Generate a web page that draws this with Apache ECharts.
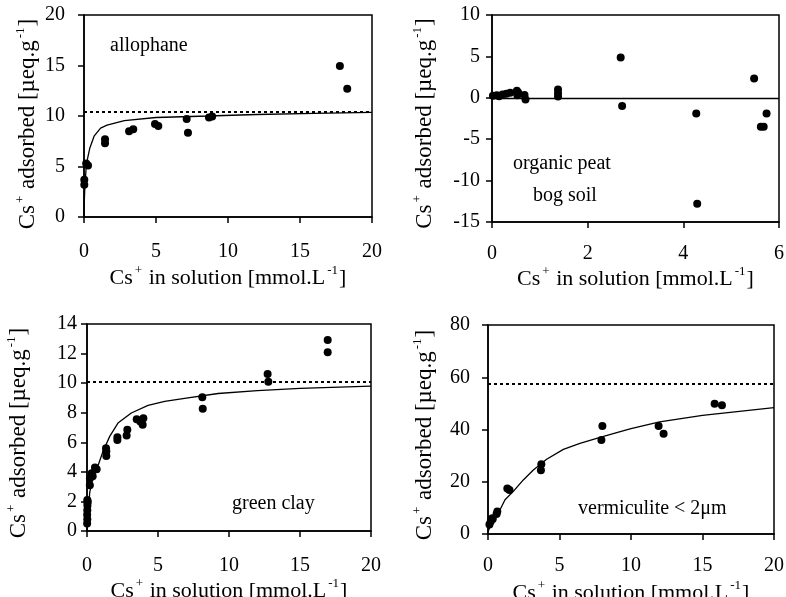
<!DOCTYPE html>
<html>
<head>
<meta charset="utf-8">
<script src="https://cdn.jsdelivr.net/npm/echarts@6/dist/echarts.min.js"></script>
<style>
html,body{margin:0;padding:0;background:#fff;}
#c{width:786px;height:597px;}
</style>
</head>
<body>
<div id="c"></div>
<script>
// ---- Panel 1: allophane ----
var alloX = [0.02, 0.02, 0.15, 0.28, 1.46, 1.46, 3.13, 3.42, 4.93, 5.16, 7.13, 7.22, 8.68, 8.9, 17.77, 18.28];
var alloY = [3.2, 3.7, 5.3, 5.1, 7.7, 7.3, 8.5, 8.7, 9.2, 9.0, 9.7, 8.35, 9.85, 9.95, 14.95, 12.7];
var alloFitX = [0, 0.02, 0.06, 0.14, 0.25, 0.4, 0.7, 1.15, 1.6, 2.8, 5, 8.6, 12, 16, 20];
var alloFitY = [0, 1.5, 3.0, 4.7, 5.8, 6.8, 8.0, 8.8, 9.1, 9.55, 9.85, 10.0, 10.15, 10.25, 10.35];
var alloMax = 10.4;

// ---- Panel 2: organic peat bog soil ----
var peatX = [0.02, 0.1, 0.15, 0.22, 0.3, 0.38, 0.52, 0.53, 0.55, 0.68, 0.7, 1.38, 1.38, 1.38, 2.69, 2.72, 4.27, 4.29, 5.48, 5.62, 5.68, 5.74];
var peatY = [0.25, 0.3, 0.2, 0.4, 0.5, 0.6, 0.85, 0.3, 0.6, 0.35, -0.2, 1.0, 0.55, 0.15, 4.87, -1.0, -1.9, -12.8, 2.34, -3.5, -3.5, -1.9];
var peatZero = 0;

// ---- Panel 3: green clay ----
var clayX = [0.01, 0.02, 0.01, 0.02, 0.03, 0.05, 0.02, 0.03, 0.2, 0.21, 0.33, 0.4, 0.56, 0.68, 1.34, 1.36, 1.36, 2.14, 2.14, 2.79, 2.84, 3.5, 3.75, 3.92, 3.97, 8.12, 8.15, 12.72, 12.77, 16.95, 16.95];
var clayY = [0.5, 0.8, 1.1, 1.4, 1.7, 2.0, 2.1, 1.9, 3.1, 3.56, 3.9, 3.7, 4.3, 4.18, 5.6, 5.4, 5.08, 6.34, 6.16, 6.46, 6.84, 7.56, 7.4, 7.18, 7.63, 9.05, 8.26, 10.62, 10.1, 12.92, 12.09];
var clayFitX = [0, 0.07, 0.19, 0.42, 0.77, 1.13, 1.6, 2.18, 3.12, 4.3, 5.47, 7.11, 9.23, 12, 15, 20];
var clayFitY = [0, 0.8, 2.6, 3.7, 4.4, 5.4, 6.4, 7.3, 7.98, 8.5, 8.76, 9.0, 9.3, 9.5, 9.65, 9.8];
var clayMax = 10.1;

// ---- Panel 4: vermiculite < 2um ----
var vermX = [0.1, 0.19, 0.3, 0.33, 0.6, 0.65, 1.35, 1.5, 3.7, 3.73, 7.93, 8.0, 11.93, 12.28, 15.85, 16.36];
var vermY = [3.6, 4.8, 6.0, 5.7, 7.7, 8.6, 17.4, 16.8, 24.4, 26.7, 36.0, 41.3, 41.3, 38.4, 49.9, 49.3];
var vermFitX = [0, 0.37, 0.84, 1.19, 1.77, 2.47, 3.17, 4.1, 5.27, 6.43, 7.6, 9.0, 10, 12, 15, 20];
var vermFitY = [1, 5.5, 9.3, 13.1, 16.3, 20.7, 24.5, 28.6, 32.4, 34.7, 36.6, 38.8, 40.3, 42.9, 45.4, 48.4];
var vermMax = 57.7;

// ---- Texts ----
var panelLabels = ['allophane', 'organic peat', 'bog soil', 'green clay', 'vermiculite < 2\u03bcm'];
var xName = '{a|Cs}{s|+}{a| in solution [mmol.L}{s|-1}{a|]}';
var yName = '{a|Cs}{s|+}{a| adsorbed [\u00b5eq.g}{s|-1}{a|]}';

function zip(xs, ys) { return xs.map(function (x, i) { return [x, ys[i]]; }); }

var FONT = '"Liberation Serif", "Times New Roman", Times, serif';
function nameStyle(size, pad) {
  return {
    padding: pad,
    rich: {
      a: { fontFamily: FONT, fontSize: size, lineHeight: 28, color: '#000' },
      s: { fontFamily: FONT, fontSize: 13, lineHeight: 9, color: '#000', verticalAlign: 'top', padding: [0, 1, 0, 2] }
    }
  };
}

function xAxis(idx, max, interval, gap, margin) {
  return {
    gridIndex: idx, type: 'value', min: 0, max: max, interval: interval,
    name: xName, nameLocation: 'middle', nameGap: gap,
    nameTextStyle: nameStyle(22, 0),
    axisLine: { onZero: false, lineStyle: { color: '#000', width: 1.5 } },
    axisTick: { length: 6, lineStyle: { color: '#000', width: 1.5 } },
    axisLabel: { margin: margin, color: '#000', fontFamily: FONT, fontSize: 20 },
    splitLine: { show: false }
  };
}
function yAxis(idx, min, max, interval, gap, margin, shift) {
  return {
    gridIndex: idx, type: 'value', min: min, max: max, interval: interval,
    name: yName, nameLocation: 'middle', nameGap: gap,
    nameTextStyle: nameStyle(23, [0, shift, 0, 0]),
    axisLine: { onZero: false, lineStyle: { color: '#000', width: 1.5 } },
    axisTick: { length: 6, lineStyle: { color: '#000', width: 1.5 } },
    axisLabel: { margin: margin, color: '#000', fontFamily: FONT, fontSize: 20 },
    splitLine: { show: false }
  };
}
function scatter(idx, data) {
  return {
    type: 'scatter', xAxisIndex: idx, yAxisIndex: idx, data: data,
    symbol: 'circle', symbolSize: 8, itemStyle: { color: '#000', opacity: 1 }, silent: true, z: 3
  };
}
function fit(idx, data) {
  return {
    type: 'line', xAxisIndex: idx, yAxisIndex: idx, data: data,
    showSymbol: false, smooth: false, lineStyle: { color: '#000', width: 1.3 }, silent: true, z: 2
  };
}
function hline(idx, value, dotted) {
  return {
    type: 'line', xAxisIndex: idx, yAxisIndex: idx, data: [],
    markLine: {
      silent: true, symbol: 'none', label: { show: false },
      lineStyle: { color: '#000', width: dotted ? 2 : 1.3, type: dotted ? [3, 3] : 'solid', opacity: 1 },
      data: [{ yAxis: value }]
    }
  };
}
function gtext(x, y, t) {
  return { type: 'text', left: x, top: y, style: { text: t, font: '20px ' + FONT, fill: '#000' } };
}

var grids = [
  { left: 84, top: 15, width: 288, height: 202 },
  { left: 492, top: 15, width: 287, height: 207 },
  { left: 87, top: 324, width: 284, height: 207 },
  { left: 488, top: 325, width: 286, height: 209 }
].map(function (g) {
  g.show = true; g.borderColor = '#000'; g.borderWidth = 1.5; g.backgroundColor = 'transparent';
  g.containLabel = false; g.outerBoundsMode = 'none';
  return g;
});

var chart = echarts.init(document.getElementById('c'), null, { renderer: 'canvas' });
chart.setOption({
  backgroundColor: '#fff',
  animation: false,
  textStyle: { fontFamily: FONT },
  grid: grids,
  xAxis: [
    xAxis(0, 20, 5, 47, 25),
    xAxis(1, 6, 2, 31, 22),
    xAxis(2, 20, 5, 44, 25),
    xAxis(3, 20, 5, 45, 22)
  ],
  yAxis: [
    yAxis(0, 0, 20, 5, 42, 19, 16),
    yAxis(1, -15, 10, 5, 53, 12, 10),
    yAxis(2, 0, 14, 2, 54, 10, 11),
    yAxis(3, 0, 80, 20, 49, 18, 11)
  ],
  series: [
    hline(0, alloMax, true),
    fit(0, zip(alloFitX, alloFitY)),
    scatter(0, zip(alloX, alloY)),
    hline(1, peatZero, false),
    scatter(1, zip(peatX, peatY)),
    hline(2, clayMax, true),
    fit(2, zip(clayFitX, clayFitY)),
    scatter(2, zip(clayX, clayY)),
    hline(3, vermMax, true),
    fit(3, zip(vermFitX, vermFitY)),
    scatter(3, zip(vermX, vermY))
  ],
  graphic: [
    gtext(110, 36, panelLabels[0]),
    gtext(513, 154, panelLabels[1]),
    gtext(533, 186, panelLabels[2]),
    gtext(232, 494, panelLabels[3]),
    gtext(578, 499, panelLabels[4])
  ]
});
</script>
</body>
</html>
